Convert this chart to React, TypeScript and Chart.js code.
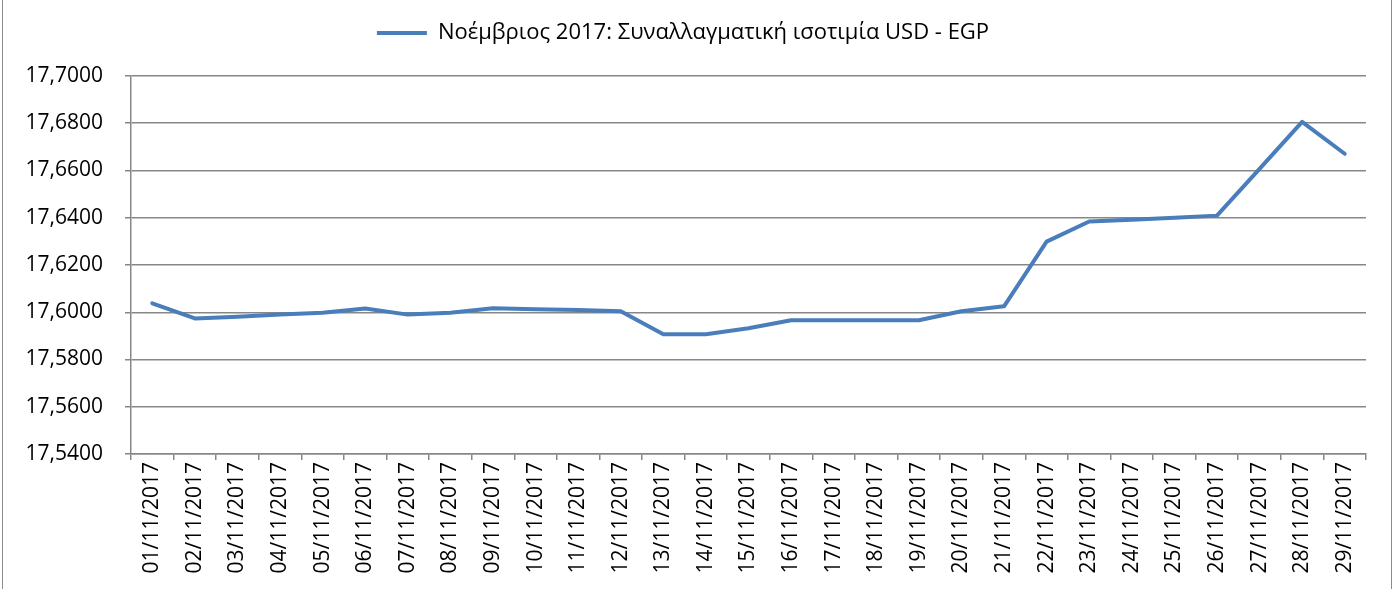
import { useEffect, useRef } from "react";
import { Chart, registerables } from "chart.js";

Chart.register(...registerables);

const dateLabels = [
  "01/11/2017", "02/11/2017", "03/11/2017", "04/11/2017", "05/11/2017",
  "06/11/2017", "07/11/2017", "08/11/2017", "09/11/2017", "10/11/2017",
  "11/11/2017", "12/11/2017", "13/11/2017", "14/11/2017", "15/11/2017",
  "16/11/2017", "17/11/2017", "18/11/2017", "19/11/2017", "20/11/2017",
  "21/11/2017", "22/11/2017", "23/11/2017", "24/11/2017", "25/11/2017",
  "26/11/2017", "27/11/2017", "28/11/2017", "29/11/2017",
];

const usdEgpRates = [
  17.6038, 17.5974, 17.5981, 17.5990, 17.5998,
  17.6016, 17.5990, 17.5998, 17.6017, 17.6013,
  17.6009, 17.6004, 17.5907, 17.5907, 17.5932,
  17.5966, 17.5966, 17.5966, 17.5966, 17.6004,
  17.6025, 17.6299, 17.6384, 17.6392, 17.6400,
  17.6409, 17.6607, 17.6806, 17.6671,
];

const seriesName = "Νοέμβριος 2017: Συναλλαγματική ισοτιμία USD - EGP";
const yMin = 17.54;
const yMax = 17.7;
const yStep = 0.02;

const FONT = "'Open Sans', 'Noto Sans', sans-serif";
const GRID = "#878787";
const LINE = "#4a7ebb";

export default function App() {
  const ref = useRef<HTMLCanvasElement | null>(null);

  useEffect(() => {
    if (!ref.current) return;
    const chart = new Chart(ref.current, {
      type: "line",
      data: {
        labels: dateLabels,
        datasets: [
          {
            label: seriesName,
            data: usdEgpRates,
            xAxisID: "x",
            yAxisID: "y",
            borderColor: LINE,
            backgroundColor: LINE,
            borderWidth: 4,
            pointRadius: 0,
            tension: 0,
            borderCapStyle: "round",
            borderJoinStyle: "round",
          },
        ],
      },
      options: {
        responsive: false,
        animation: false,
        layout: { padding: { top: 4, right: 29, left: 0, bottom: 0 } },
        plugins: {
          tooltip: { enabled: false },
          legend: {
            position: "top",
            align: "center",
            labels: {
              usePointStyle: true,
              pointStyle: "line",
              pointStyleWidth: 50,
              color: "#000",
              font: { family: FONT, size: 22 },
              padding: 18,
            },
          },
        },
        scales: {
          x: {
            offset: true,
            grid: {
              offset: true,
              drawOnChartArea: false,
              color: GRID,
              tickColor: GRID,
              tickLength: 6,
              lineWidth: 1.5,
            },
            border: { color: GRID, width: 1.5 },
            ticks: {
              autoSkip: false,
              maxRotation: 90,
              minRotation: 90,
              color: "#000",
              padding: 2,
              font: { family: FONT, size: 21 },
            },
            afterFit: (s: any) => {
              s.height = 135;
            },
          },
          xTopSpacer: {
            type: "category",
            position: "top",
            labels: dateLabels,
            grid: { display: false, drawTicks: false },
            border: { display: false },
            ticks: { display: false },
            afterFit: (s: any) => {
              s.height = 22;
            },
          },
          y: {
            min: yMin,
            max: yMax,
            grid: {
              color: GRID,
              tickColor: GRID,
              tickLength: 6,
              lineWidth: 1.5,
            },
            border: { color: GRID, width: 1.5 },
            ticks: {
              stepSize: yStep,
              color: "#000",
              padding: 22,
              font: { family: FONT, size: 21 },
              callback: (v: any) => Number(v).toFixed(4).replace(".", ","),
            },
            afterFit: (s: any) => {
              s.width = 131;
            },
          },
        },
      },
    });
    return () => chart.destroy();
  }, []);

  return (
    <div style={{ position: "absolute", left: 0, top: 0, width: 1395, height: 589, overflow: "hidden", background: "#fff" }}>
      <div
        style={{
          position: "absolute",
          left: 2,
          top: -10,
          width: 1388,
          height: 610,
          border: "1.5px solid #8c8c8c",
        }}
      />
      <canvas ref={ref} width={1395} height={589} style={{ position: "absolute", left: 0, top: 0 }} />
    </div>
  );
}
